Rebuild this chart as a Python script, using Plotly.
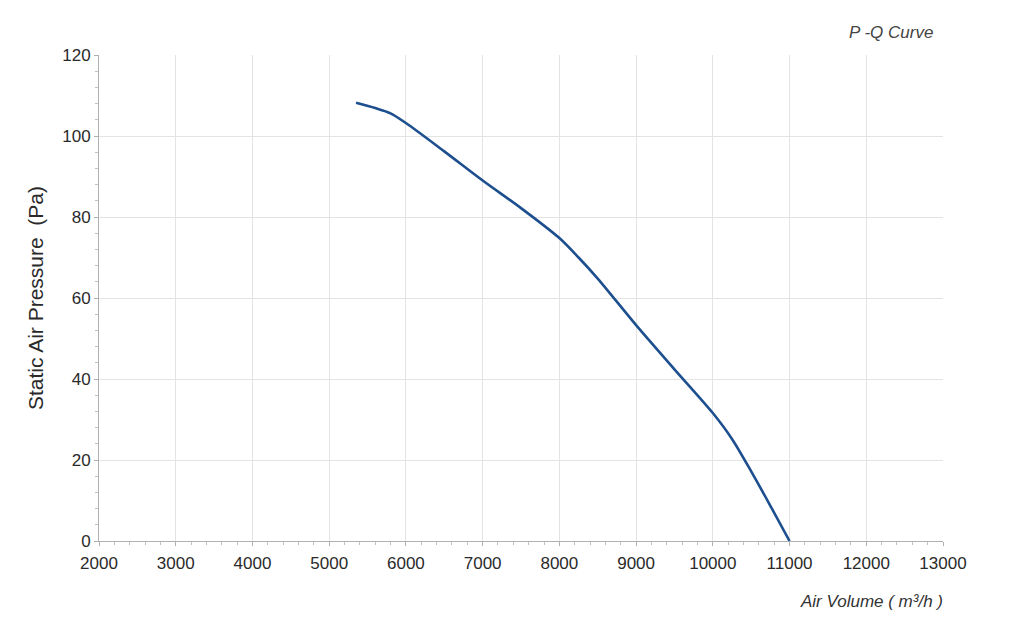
import plotly.graph_objects as go

air_volume = [5350, 5600, 5800, 6000, 6500, 7000, 7500, 8000, 8250, 8500, 9000, 9500, 10000, 10250, 10500, 10750, 11000]
static_pressure = [108.2, 106.9, 105.6, 103.2, 96.2, 89.0, 82.2, 74.8, 70.0, 64.8, 53.3, 42.4, 31.6, 25.2, 17.2, 8.7, 0.0]

x_ticks = [2000, 3000, 4000, 5000, 6000, 7000, 8000, 9000, 10000, 11000, 12000, 13000]
y_ticks = [0, 20, 40, 60, 80, 100, 120]

fig = go.Figure()
fig.add_trace(go.Scatter(
    x=air_volume, y=static_pressure, mode="lines",
    line=dict(color="#1d4f8f", width=2.6, shape="spline", smoothing=0.8),
    showlegend=False, hoverinfo="x+y"))

font_family = "Liberation Sans, Arial, sans-serif"
fig.update_layout(
    width=1024, height=633,
    margin=dict(l=91, r=89, t=47, b=100),
    paper_bgcolor="white", plot_bgcolor="white",
    font=dict(family=font_family, color="#333333", size=17),
    showlegend=False,
)
fig.update_xaxes(
    range=[2000, 13000], tickvals=x_ticks, ticktext=[str(v) for v in x_ticks],
    showgrid=True, gridcolor="#e3e3e3", gridwidth=1,
    showline=True, linecolor="#b0b0b0", linewidth=1,
    ticks="outside", ticklen=4, tickcolor="#b0b0b0", ticklabelstandoff=3,
    minor=dict(dtick=200, ticks="outside", ticklen=3, tickcolor="#c0c0c0", showgrid=False),
    zeroline=False, tickfont=dict(size=17, color="#2a2a2a"),
)
fig.update_yaxes(
    range=[0, 120], tickvals=y_ticks, ticktext=[str(v) for v in y_ticks],
    showgrid=True, gridcolor="#e3e3e3", gridwidth=1,
    showline=True, linecolor="#b0b0b0", linewidth=1,
    ticks="outside", ticklen=4, tickcolor="#b0b0b0",
    minor=dict(dtick=4, ticks="outside", ticklen=3, tickcolor="#c0c0c0", showgrid=False),
    zeroline=False, tickfont=dict(size=17, color="#2a2a2a"),
    title=dict(text="Static Air Pressure  (Pa)", font=dict(size=21, color="#2a2a2a"), standoff=12),
)
fig.add_annotation(
    text="<i>P -Q Curve</i>", xref="paper", yref="paper", x=1.0, y=1.0,
    xanchor="right", yanchor="middle", yshift=23, xshift=-8, showarrow=False,
    font=dict(size=17, color="#444444"))
fig.add_annotation(
    text="<i>Air Volume ( m³/h )</i>", xref="paper", yref="paper", x=1.0, y=0,
    xanchor="right", yanchor="middle", yshift=-60, xshift=2, showarrow=False,
    font=dict(size=17, color="#333333"))

fig.write_html("out.html")
